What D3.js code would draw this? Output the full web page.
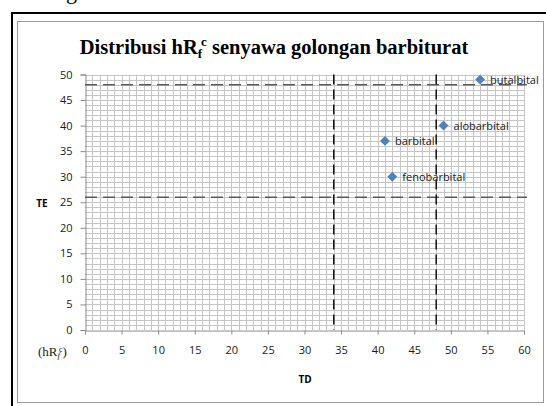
<!DOCTYPE html>
<html>
<head>
<meta charset="utf-8">
<script src="https://cdn.jsdelivr.net/npm/d3@7"></script>
<style>
  body { margin: 0; background: #fff; }
  svg { display: block; }
</style>
</head>
<body>
<svg id="chart"></svg>
<script>
"use strict";

var width = 546
  , height = 406;

// points
var names = ["butalbital", "alobarbital", "barbital", "fenobarbital"];
var tdValues = [54, 49, 41, 42];
var teValues = [49, 40, 37, 30];

// dashed reference lines
var teCuts = [48, 26];
var tdCuts = [34, 48];

var xTicks = d3.range(0, 61, 5);
var yTicks = d3.range(0, 51, 5);

var svg = d3.select("#chart")
  .attr("width", width)
  .attr("height", height);

// piece of the page text above the figure (cut off in the source too)
svg.append("text")
  .attr("x", 66)
  .attr("y", -1)
  .style("font-family", "Liberation Serif")
  .style("font-size", "22px")
  .text("g");

// frames
svg.append("path")
  .attr("d", "M12,406 V13 H546")
  .attr("fill", "none")
  .attr("stroke", "#000")
  .attr("stroke-width", 2);

svg.append("rect")
  .attr("x", 17.5)
  .attr("y", 21.5)
  .attr("width", 526)
  .attr("height", 381)
  .attr("fill", "#fff")
  .attr("stroke", "#9a9a9a")
  .attr("stroke-width", 1);

var x = d3.scaleLinear().domain([0, 60]).range([85, 524]);
var y = d3.scaleLinear().domain([0, 50]).range([330, 74.5]);

// title
var title = svg.append("text")
  .attr("x", 274)
  .attr("y", 54)
  .attr("text-anchor", "middle")
  .style("font-family", "Liberation Serif")
  .style("font-weight", "bold")
  .style("font-size", "20.5px");
title.append("tspan").text("Distribusi hR");
title.append("tspan").attr("dy", 4).style("font-size", "13px").text("f");
title.append("tspan").attr("dy", -12).attr("dx", -1).style("font-size", "13px").text("c");
title.append("tspan").attr("dy", 8).text(" senyawa golongan barbiturat");

// grid
var grid = svg.append("g").attr("stroke", "#c6c6c6").attr("stroke-width", 1);
grid.selectAll(".v")
  .data(d3.range(1, 61))
  .enter()
  .append("line")
  .attr("x1", function (d) { return Math.round(x(d)) + 0.5; })
  .attr("x2", function (d) { return Math.round(x(d)) + 0.5; })
  .attr("y1", y(50))
  .attr("y2", y(0));
grid.selectAll(".h")
  .data(d3.range(1, 51))
  .enter()
  .append("line")
  .attr("y1", function (d) { return Math.round(y(d)) + 0.5; })
  .attr("y2", function (d) { return Math.round(y(d)) + 0.5; })
  .attr("x1", x(0))
  .attr("x2", x(60));

// axes
var xAxis = d3.axisBottom(x).tickValues(xTicks).tickSize(4).tickPadding(12);
var yAxis = d3.axisLeft(y).tickValues(yTicks).tickSize(5).tickPadding(8);

var gx = svg.append("g")
  .attr("transform", "translate(0," + (Math.round(y(0)) + 0.5) + ")")
  .call(xAxis);
var gy = svg.append("g")
  .attr("transform", "translate(" + (Math.round(x(0)) + 0.5) + ",0)")
  .call(yAxis);

[gx, gy].forEach(function (g) {
  g.select(".domain").attr("stroke", "#8c8c8c");
  g.selectAll(".tick line").attr("stroke", "#8c8c8c");
  g.selectAll(".tick text")
    .attr("fill", "#1a1a1a")
    .style("font-family", "Open Sans")
    .style("font-size", "11px");
});

// dashed lines
svg.selectAll(".hcut")
  .data(teCuts)
  .enter()
  .append("line")
  .attr("x1", x(0))
  .attr("x2", x(60) + 3)
  .attr("y1", function (d) { return y(d); })
  .attr("y2", function (d) { return y(d); })
  .attr("stroke", "#5a5a5a")
  .attr("stroke-width", 1.5)
  .attr("stroke-dasharray", "12,6");

svg.selectAll(".vcut")
  .data(tdCuts)
  .enter()
  .append("line")
  .attr("x1", function (d) { return x(d); })
  .attr("x2", function (d) { return x(d); })
  .attr("y1", y(50))
  .attr("y2", y(0))
  .attr("stroke", "#111")
  .attr("stroke-width", 1.5)
  .attr("stroke-dasharray", "10,5");

// points
var points = names.map(function (n, i) { return [tdValues[i], teValues[i], n]; });

svg.selectAll(".pt")
  .data(points)
  .enter()
  .append("path")
  .attr("d", d3.symbol().type(d3.symbolDiamond2).size(62))
  .attr("transform", function (d) { return "translate(" + x(d[0]) + "," + y(d[1]) + ")"; })
  .attr("fill", "#4f81bd");

svg.selectAll(".lbl")
  .data(points)
  .enter()
  .append("text")
  .attr("x", function (d) { return x(d[0]) + 10; })
  .attr("y", function (d) { return y(d[1]) + 4; })
  .attr("fill", "#1a1a1a")
  .style("font-family", "Open Sans")
  .style("font-size", "11px")
  .text(function (d) { return d[2]; });

// axis labels
svg.append("text")
  .attr("x", 42)
  .attr("y", 207)
  .attr("text-anchor", "middle")
  .style("font-family", "Open Sans")
  .style("font-weight", "bold")
  .style("font-size", "10px")
  .text("TE");

svg.append("text")
  .attr("x", 305)
  .attr("y", 383)
  .attr("text-anchor", "middle")
  .style("font-family", "Open Sans")
  .style("font-weight", "bold")
  .style("font-size", "10px")
  .text("TD");

var unit = svg.append("text")
  .attr("x", 38)
  .attr("y", 356)
  .attr("fill", "#1a1a1a")
  .style("font-family", "Liberation Serif")
  .style("font-size", "13px");
unit.append("tspan").text("(hR");
unit.append("tspan").attr("dy", 2).style("font-size", "9px").style("font-style", "italic").text("f");
unit.append("tspan").attr("dy", -6).attr("dx", -1).style("font-size", "8px").text("c");
unit.append("tspan").attr("dy", 4).text(")");
</script>
</body>
</html>
